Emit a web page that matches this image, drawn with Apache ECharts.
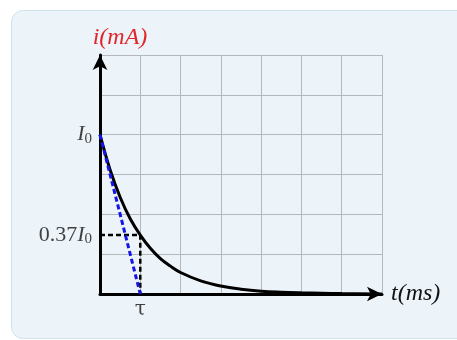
<!DOCTYPE html>
<html>
<head>
<meta charset="utf-8">
<script src="https://cdn.jsdelivr.net/npm/echarts@6/dist/echarts.min.js"></script>
<style>
html, body { margin: 0; padding: 0; background: #fff; overflow: hidden; }
.panel { position: absolute; left: 11px; top: 10px; width: 470px; height: 327px;
  background: #edf4f9; border: 1px solid #cfe3ef; border-radius: 12px; }
#chart { position: absolute; left: 0; top: 0; width: 457px; height: 340px; }
</style>
</head>
<body>
<div class="panel"></div>
<div id="chart"></div>
<script>
// time in units of tau, current in grid units (I0 = 4)
var tValues = [0, 0.25, 0.5, 0.75, 1, 1.25, 1.5, 1.75, 2, 2.5, 3, 3.5, 4, 4.5, 5, 5.5, 6, 7];
var iValues = [4, 3.12, 2.43, 1.89, 1.48, 1.15, 0.89, 0.70, 0.54, 0.33, 0.20, 0.12, 0.07, 0.045, 0.03, 0.02, 0.01, 0];
var tangentPts = [[0, 4], [1, 0]];
var guidePts = [[0, 1.48], [1, 1.48], [1, 0]];
var labelPts = [
    {value: [0, 4], text: '{i|I}{s|0}', pos: 'left'},
    {value: [0, 1.48], text: '{n|0.37}{i|I}{s|0}', pos: 'left'},
    {value: [1, 0], text: '{t|τ}', pos: 'bottom'}
];

function init(){
    var chart = echarts.init(document.getElementById('chart'), null, {renderer: 'canvas'});
    var curve = [];
    for (var k = 0; k < tValues.length; k++) curve.push([tValues[k], iValues[k]]);

    var serif = '"Liberation Serif", "DejaVu Serif", serif';
    var rich = {
        i: {fontFamily: serif, fontStyle: 'italic', fontSize: 22, color: '#111', lineHeight: 24},
        s: {fontFamily: serif, fontSize: 15, color: '#111', padding: [9, 0, 0, 0], lineHeight: 24},
        n: {fontFamily: serif, fontSize: 22, color: '#111', lineHeight: 24},
        t: {fontFamily: '"DejaVu Serif", serif', fontSize: 20, color: '#111', lineHeight: 20}
    };

    var option = {
        animation: false,
        grid: {left: 100, right: 75, top: 55, bottom: 46},
        xAxis: {
            type: 'value', min: 0, max: 7, interval: 1,
            name: 't(ms)', nameLocation: 'end', nameGap: 9,
            nameTextStyle: {fontFamily: serif, fontStyle: 'italic', fontSize: 24, color: '#111', padding: [2, 0, 0, 0]},
            axisLine: {show: true, onZero: false, symbol: ['none', 'arrow'], symbolSize: [11, 15],
                lineStyle: {color: '#000', width: 3}},
            axisTick: {show: false}, axisLabel: {show: false},
            splitLine: {show: true, lineStyle: {color: '#b4b8bc', width: 1}}
        },
        yAxis: {
            type: 'value', min: 0, max: 6, interval: 1,
            name: 'i(mA)', nameLocation: 'end', nameGap: 5,
            nameTextStyle: {fontFamily: serif, fontStyle: 'italic', fontSize: 24, color: '#e0262c', padding: [0, 0, 0, 40]},
            axisLine: {show: true, onZero: false, symbol: ['none', 'arrow'], symbolSize: [11, 15],
                lineStyle: {color: '#000', width: 3}},
            axisTick: {show: false}, axisLabel: {show: false},
            splitLine: {show: true, lineStyle: {color: '#b4b8bc', width: 1}}
        },
        series: [
            {
                type: 'line', data: curve, smooth: 0.4, symbol: 'none',
                lineStyle: {color: '#000', width: 3}, z: 3
            },
            {
                type: 'line', data: guidePts, symbol: 'none',
                lineStyle: {color: '#000', width: 2.5, type: [5, 3]}, z: 4
            },
            {
                type: 'line', data: tangentPts, symbol: 'none',
                lineStyle: {color: '#1515e8', width: 3, type: [5, 3]}, z: 5
            },
            {
                type: 'scatter', symbolSize: 0, z: 6,
                data: labelPts.map(function(p){
                    return {
                        value: p.value,
                        label: {show: true, position: p.pos, distance: p.pos === 'left' ? 8 : 6,
                            fontSize: 22, fontFamily: serif, color: '#111',
                            formatter: p.text, rich: rich}
                    };
                })
            }
        ]
    };
    chart.setOption(option);
}

init();
</script>
</body>
</html>
